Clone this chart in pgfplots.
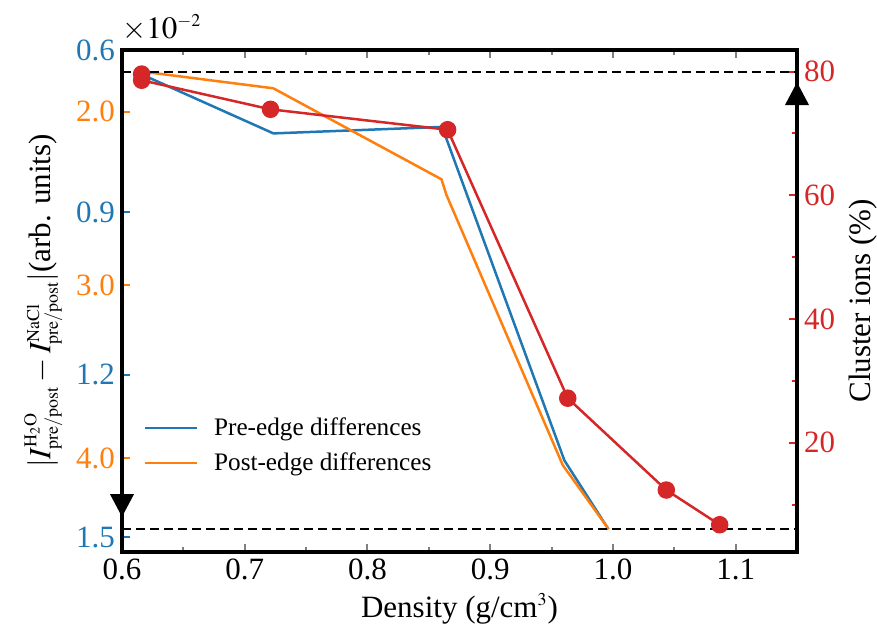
\documentclass[border=0pt]{standalone}
\usepackage{mathptmx}
\usepackage{fontspec}
\setmainfont{Liberation Serif}
\DeclareMathSizes{15.5}{15.5}{9}{7}
\usepackage{pgfplots}
\pgfplotsset{compat=1.18}
\usetikzlibrary{arrows.meta}
\definecolor{tblue}{HTML}{1F77B4}
\definecolor{torange}{HTML}{FF7F0E}
\definecolor{tred}{HTML}{D62728}
\pgfplotsset{
  common/.style={
    scale only axis, width=337.5pt, height=251pt,
    xmin=0.6, xmax=1.15,
    /pgf/number format/assume math mode=true,
    tick label style={font=\fontsize{15.5}{18}\selectfont},
    label style={font=\fontsize{15.5}{18}\selectfont},
    major tick length=4pt, minor tick length=2.5pt,
    every tick/.append style={line width=1pt},
    axis line style={line width=2pt},
    tick align=inside,
  },
}
\begin{document}
\begin{tikzpicture}
\useasboundingbox (-61pt,-38.5pt) rectangle (377.5pt,276pt);
% blue axis (pre-edge)
\begin{axis}[common,
  y dir=reverse, ymin=0.6, ymax=1.527,
  ytick={0.6,0.9,1.2,1.5},
  yticklabel={\pgfmathprintnumber[fixed,precision=1,fixed zerofill]{\tick}},
  yticklabel style={text=tblue},
  every y tick/.append style={tblue},
  ytick pos=left, xtick pos=both,
  xtick={0.6,0.7,0.8,0.9,1.0,1.1},
  xticklabels={0.6,0.7,0.8,0.9,1.0,1.1},
  minor xtick={0.65,0.75,0.85,0.95,1.05},
  xlabel={Density (g/cm$^3$)},
  ylabel={$|I^{\mathrm{H_2O}}_{\mathrm{pre/post}} - I^{\mathrm{NaCl}}_{\mathrm{pre/post}}|$(arb. units)},
]
\addplot[tblue, line width=1.25pt] coordinates {
 (0.616,0.645) (0.7234,0.754) (0.8608,0.742) (0.9605,1.358) (0.9964,1.485)};
\end{axis}
% orange axis (post-edge)
\begin{axis}[common,
  y dir=reverse, ymin=1.644, ymax=4.541,
  axis y line*=left, hide x axis,
  ytick={2,3,4},
  yticklabel={\pgfmathprintnumber[fixed,precision=1,fixed zerofill]{\tick}},
  yticklabel style={text=torange},
  every y tick/.append style={torange},
]
\addplot[torange, line width=1.25pt] coordinates {
 (0.616,1.768) (0.7233,1.865) (0.8603,2.390) (0.8644,2.481) (0.9591,4.039) (0.9964,4.408)};
\end{axis}
% red axis (cluster ions)
\begin{axis}[common,
  axis y line*=right, hide x axis,
  ymin=2.33, ymax=83.49,
  ytick={20,40,60,80}, minor ytick={10,30,50,70},
  yticklabel style={text=tred},
  every y tick/.append style={tred},
  ylabel={Cluster ions (\%)},
  clip=false,
  legend style={draw=none, fill=none, at={(axis description cs:0.0226,0.284)}, anchor=north west,
    font=\fontsize{12.6}{15}\selectfont, row sep=3pt},
  legend cell align=left,
  legend image code/.code={\draw[#1] (0pt,0pt) -- (26pt,0pt); \path (32pt,0pt);},
]
\addplot[forget plot, black, line width=1pt, dash pattern=on 4.5pt off 2.5pt] coordinates {(0.6,80) (1.15,80)};
\addplot[forget plot, black, line width=1pt, dash pattern=on 4.5pt off 2.5pt] coordinates {(0.6,6.0) (1.15,6.0)};
\addplot[forget plot, tred, line width=1.25pt, mark=*, mark size=3.75pt] coordinates {
 (0.616,79.6) (0.616,78.6) (0.721,73.9) (0.8653,70.6) (0.9632,27.2) (1.0435,12.35) (1.0870,6.74)};
\addlegendimage{tblue, line width=1.25pt}
\addlegendentry{Pre-edge differences}
\addlegendimage{torange, line width=1.25pt}
\addlegendentry{Post-edge differences}
\draw[line width=2pt, -{Triangle[width=11.5pt,length=11.5pt]}] (axis description cs:0,0.16) -- (axis description cs:0,0.0697);
\draw[line width=2pt, -{Triangle[width=11.5pt,length=11.5pt]}] (axis description cs:1,0.85) -- (axis description cs:1,0.936);
\node[anchor=base west, inner sep=0pt, yshift=6pt, font=\fontsize{15.5}{18}\selectfont] at (axis description cs:0,1) {$\times10^{-2}$};
\end{axis}
\end{tikzpicture}
\end{document}
